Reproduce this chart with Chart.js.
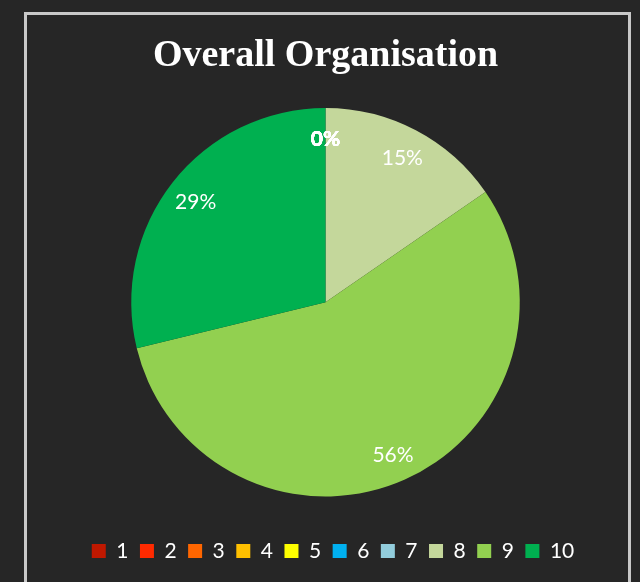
<!DOCTYPE html>
<html>
<head>
<meta charset="utf-8">
<script src="https://cdn.jsdelivr.net/npm/chart.js@4/dist/chart.umd.min.js"></script>
<style>
    html, body { margin: 0; padding: 0; background: #262626; }
    #frame {
        position: absolute; left: 24px; top: 12px;
        width: 601px; height: 620px;
        border: 3px solid #c8c8c8;
        box-sizing: content-box;
    }
    #wrap { position: absolute; left: 0; top: 0; width: 640px; height: 582px; overflow: hidden; }
</style>
</head>
<body>
<div id="wrap">
    <div id="frame"></div>
    <canvas id="pieChart" width="640" height="582" style="position:absolute;left:0;top:0;"></canvas>
</div>
<script>
const categories = ['1', '2', '3', '4', '5', '6', '7', '8', '9', '10'];
const shares = [0, 0, 0, 0, 0, 0, 0, 15.4, 55.8, 28.8];
const sliceColors = ['#c01800', '#ff2a00', '#ff6600', '#ffc000', '#ffff00',
                     '#00b0f0', '#92cddc', '#c4d79b', '#92d050', '#00b050'];

// percentage labels inside each slice (zero slices stack at the top)
const pctLabels = {
    id: 'pctLabels',
    afterDatasetsDraw(chart) {
        const ctx = chart.ctx;
        const total = shares.reduce((a, b) => a + b, 0);
        chart.getDatasetMeta(0).data.forEach((arc, i) => {
            const p = arc.getProps(['x', 'y', 'startAngle', 'endAngle', 'outerRadius'], true);
            const mid = (p.startAngle + p.endAngle) / 2;
            const r = p.outerRadius * 0.85;
            const pct = Math.round(shares[i] / total * 100);
            ctx.save();
            ctx.fillStyle = '#ffffff';
            ctx.font = (pct === 0 ? 'bold ' : '') + '21px Lato';
            ctx.textAlign = 'center';
            ctx.textBaseline = 'middle';
            ctx.fillText(pct + '%', p.x + Math.cos(mid) * r, p.y + Math.sin(mid) * r + 2);
            ctx.restore();
        });
    }
};

document.addEventListener('DOMContentLoaded', function() {
    const ctx = document.getElementById('pieChart').getContext('2d');

    new Chart(ctx, {
        type: 'pie',
        data: {
            labels: categories,
            datasets: [{
                data: shares,
                backgroundColor: sliceColors,
                borderWidth: 0
            }]
        },
        options: {
            responsive: false,
            animation: false,
            layout: { padding: { left: 50, right: 24, top: 0, bottom: 10.5 } },
            plugins: {
                title: {
                    display: true,
                    fullSize: false,
                    text: 'Overall Organisation',
                    color: '#ffffff',
                    font: { family: 'Liberation Serif', size: 38, weight: 'bold', lineHeight: 1.2 },
                    padding: { top: 33.2, bottom: 29.2 }
                },
                // empty spacer on the right so the pie sits left of the legend's centre
                subtitle: {
                    display: true,
                    position: 'right',
                    text: '',
                    padding: 0,
                    font: { size: 15, lineHeight: 1 }
                },
                legend: {
                    position: 'bottom',
                    title: { display: true, text: '', padding: 0, font: { size: 32.5, lineHeight: 1 } },
                    labels: {
                        color: '#ffffff',
                        boxWidth: 14,
                        boxHeight: 14,
                        padding: 11.5,
                        font: { family: 'Lato', size: 21 }
                    }
                },
                tooltip: { enabled: false }
            }
        },
        plugins: [pctLabels]
    });
});
</script>
</body>
</html>
